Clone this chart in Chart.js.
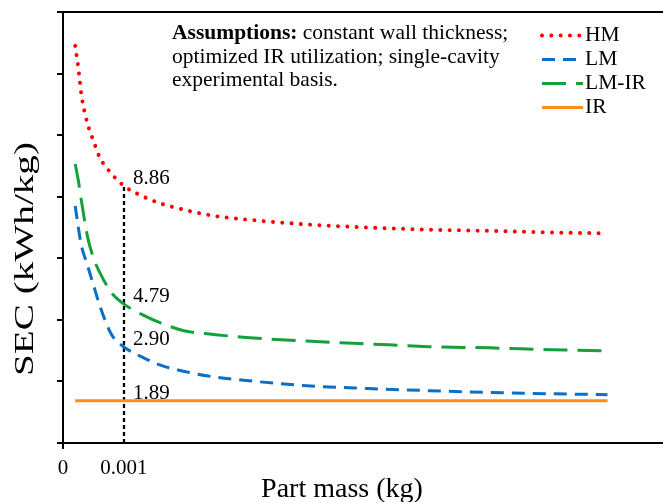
<!DOCTYPE html>
<html><head><meta charset="utf-8">
<script src="https://cdn.jsdelivr.net/npm/chart.js@4.4.1/dist/chart.umd.min.js"></script>
<style>html,body{margin:0;padding:0;background:#fff;overflow:hidden}#wrap{width:663px;height:502px;position:relative}</style>
</head><body><div id="wrap"><canvas id="c"></canvas></div>
<script>
// Part mass (kg) shared by all series
const partMass = [0.0002, 0.00025, 0.0003, 0.0004, 0.0005, 0.0006, 0.0008, 0.001, 0.0013, 0.0016, 0.002, 0.0025, 0.003, 0.004, 0.005, 0.006, 0.007, 0.008, 0.00893];
// SEC values (axis units)
const secHM   = [12.90, 12.21, 11.34, 10.39, 9.81, 9.29, 8.74, 8.35, 8.02, 7.78, 7.57, 7.37, 7.26, 7.10, 7.00, 6.93, 6.89, 6.84, 6.81];
const secLM   = [7.70, 7.02, 6.43, 5.78, 5.13, 4.48, 3.51, 3.12, 2.79, 2.53, 2.32, 2.14, 2.03, 1.86, 1.77, 1.70, 1.64, 1.60, 1.57];
const secLMIR = [9.06, 8.54, 7.89, 6.72, 6.01, 5.55, 4.87, 4.51, 4.17, 3.90, 3.64, 3.52, 3.43, 3.31, 3.22, 3.13, 3.09, 3.03, 2.99];
const secIR   = [1.37, 1.37, 1.37, 1.37, 1.37, 1.37, 1.37, 1.37, 1.37, 1.37, 1.37, 1.37, 1.37, 1.37, 1.37, 1.37, 1.37, 1.37, 1.37];
const seriesNames = ['HM', 'LM', 'LM-IR', 'IR'];
// Highlighted mass and its annotated SEC values (kWh/kg)
const markMass = 0.001;
const markLabels = ['8.86', '2.90', '4.79', '1.89'];
const xTickValues = [0, 0.001];
const xTitle = 'Part mass (kg)';
const yTitle = 'SEC (kWh/kg)';
const noteBold = 'Assumptions:';
const noteLines = [' constant wall thickness;', 'optimized IR utilization; single-cavity', 'experimental basis.'];

const seriesValues = [secHM, secLM, secLMIR, secIR];
const toXY = vals => partMass.map((m, i) => ({x: m, y: vals[i]}));
const markIdx = partMass.indexOf(markMass);
const SERIF = '"Liberation Serif", "Times New Roman", serif';

const styles = [
  {borderColor: '#FF0000', borderWidth: 4, borderDash: [0.01, 9.3], borderCapStyle: 'round'},
  {borderColor: '#0A6FC8', borderWidth: 3, borderDash: [13, 8], borderCapStyle: 'butt'},
  {borderColor: '#14A03C', borderWidth: 3, borderDash: [24, 10], borderCapStyle: 'butt'},
  {borderColor: '#FF8C1A', borderWidth: 3, borderDash: [], borderCapStyle: 'butt'}
];

const datasets = seriesNames.map((name, i) => Object.assign({
  label: name,
  data: toXY(seriesValues[i]),
  pointRadius: 0,
  fill: false,
  cubicInterpolationMode: 'monotone'
}, styles[i]));
datasets.push({
  label: '',
  data: [{x: markMass, y: 0}, {x: markMass, y: secHM[markIdx]}],
  borderColor: '#000', borderWidth: 2.3, borderDash: [4, 3], pointRadius: 0, fill: false
});

const overlay = {
  id: 'overlay',
  afterDatasetsDraw(chart) {
    const {ctx, scales: {x, y}} = chart;
    ctx.save();
    ctx.fillStyle = '#000';
    ctx.textAlign = 'left';
    ctx.textBaseline = 'alphabetic';
    // value annotations at the marked mass
    ctx.font = '21px ' + SERIF;
    const px = x.getPixelForValue(markMass) + 9;
    seriesValues.forEach((vals, i) => {
      ctx.fillText(markLabels[i], px, y.getPixelForValue(vals[markIdx]) - 2);
    });
    // assumptions note
    ctx.font = 'bold 21.5px ' + SERIF;
    ctx.fillText(noteBold, 172, 39);
    const bw = ctx.measureText(noteBold).width;
    ctx.font = '21.5px ' + SERIF;
    ctx.fillText(noteLines[0], 172 + bw, 39);
    ctx.fillText(noteLines[1], 172, 62.5);
    ctx.fillText(noteLines[2], 172, 86);
    // legend
    chart.data.datasets.forEach((ds, i) => {
      if (!ds.label) return;
      const ry = 35.5 + i * 24;
      ctx.save();
      ctx.strokeStyle = ds.borderColor;
      ctx.lineWidth = ds.borderWidth;
      ctx.lineCap = ds.borderCapStyle || 'butt';
      ctx.setLineDash(ds.borderDash || []);
      ctx.beginPath();
      ctx.moveTo(542, ry);
      ctx.lineTo(583, ry);
      ctx.stroke();
      ctx.restore();
      ctx.font = '21.5px ' + SERIF;
      ctx.textBaseline = 'middle';
      ctx.fillText(ds.label, 585, ry);
    });
    // axis titles
    ctx.textBaseline = 'alphabetic';
    ctx.textAlign = 'center';
    ctx.font = '28px ' + SERIF;
    ctx.fillText(xTitle, 342, 497);
    ctx.save();
    ctx.translate(33, 259);
    ctx.rotate(-Math.PI / 2);
    ctx.font = '27px ' + SERIF;
    const w = ctx.measureText(yTitle).width;
    ctx.scale(234 / w, 1);
    ctx.fillText(yTitle, 0, 0);
    ctx.restore();
    ctx.restore();
  }
};

new Chart(document.getElementById('c'), {
  type: 'line',
  data: {datasets},
  options: {
    responsive: true,
    maintainAspectRatio: false,
    devicePixelRatio: 1,
    animation: false,
    layout: {padding: {left: 57, right: 0, top: 12, bottom: 15}},
    plugins: {legend: {display: false}, tooltip: {enabled: false}},
    scales: {
      x: {
        type: 'linear', min: 0, max: 0.00984,
        afterBuildTicks: s => { s.ticks = xTickValues.map(v => ({value: v})); },
        ticks: {
          autoSkip: false, maxRotation: 0, padding: 8.5, color: '#000',
          font: {family: SERIF, size: 21, lineHeight: 1},
          callback: v => String(v)
        },
        grid: {
          drawOnChartArea: false, drawTicks: true, tickLength: 6, lineWidth: 2,
          color: c => (c.tick && c.tick.value === 0) ? '#000' : 'rgba(0,0,0,0)'
        },
        border: {display: true, color: '#000', width: 2},
        title: {display: false}
      },
      x2: {
        type: 'linear', position: 'top', display: true,
        ticks: {display: false},
        grid: {display: false, drawTicks: false},
        border: {display: true, color: '#000', width: 2}
      },
      y: {
        type: 'linear', min: 0, max: 14,
        ticks: {display: false, stepSize: 2},
        grid: {drawOnChartArea: false, drawTicks: true, tickLength: 6, lineWidth: 2, color: '#000'},
        border: {display: true, color: '#000', width: 2},
        title: {display: false}
      }
    }
  },
  plugins: [overlay]
});
</script>
</body></html>
